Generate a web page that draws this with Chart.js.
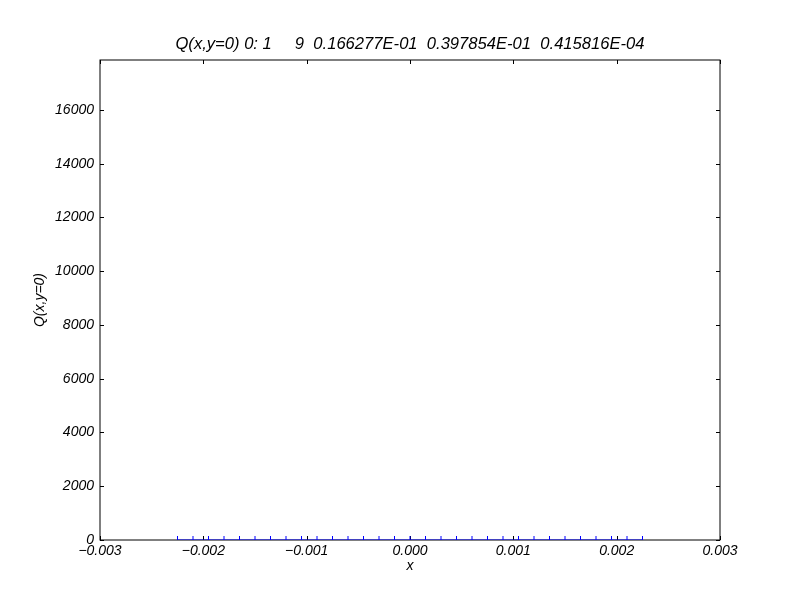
<!DOCTYPE html>
<html>
<head>
<meta charset="utf-8">
<script src="https://cdn.jsdelivr.net/npm/chart.js@4.4.0/dist/chart.umd.min.js"></script>
<style>
  html, body { margin: 0; padding: 0; background: #fff; }
  #wrap { width: 800px; height: 600px; }
</style>
</head>
<body>
<div id="wrap"><canvas id="qChart" width="800" height="600"></canvas></div>
<script>
// data
const xValues = [
  -0.00225, -0.0021, -0.00195, -0.0018, -0.00165, -0.0015, -0.00135, -0.0012,
  -0.00105, -0.0009, -0.00075, -0.0006, -0.00045, -0.0003, -0.00015, 0.0,
  0.00015, 0.0003, 0.00045, 0.0006, 0.00075, 0.0009, 0.00105, 0.0012,
  0.00135, 0.0015, 0.00165, 0.0018, 0.00195, 0.0021, 0.00225
];
const qValues = [
  0, 0, 0, 0, 0, 0, 0, 0, 0, 0, 0, 0, 0, 0, 0, 0,
  0, 0, 0, 0, 0, 0, 0, 0, 0, 0, 0, 0, 0, 0, 0
];
const xTicks = [-0.003, -0.002, -0.001, 0.0, 0.001, 0.002, 0.003];
const yTicks = [0, 2000, 4000, 6000, 8000, 10000, 12000, 14000, 16000];
const yMax = 17860;
const titleText = "Q(x,y=0) 0: 1     9  0.166277E-01  0.397854E-01  0.415816E-04";

const fam = "'Liberation Sans', Arial, sans-serif";

// frame + inward ticks like matplotlib, drawn under the data
const framePlugin = {
  id: "frame",
  beforeDatasetsDraw(chart) {
    const { ctx, chartArea: a, scales } = chart;
    ctx.save();
    ctx.strokeStyle = "#000";
    ctx.lineWidth = 1;
    ctx.beginPath();
    xTicks.forEach(function (v) {
      const px = Math.round(scales.x.getPixelForValue(v)) + 0.5;
      ctx.moveTo(px, a.bottom); ctx.lineTo(px, a.bottom - 4);
      ctx.moveTo(px, a.top); ctx.lineTo(px, a.top + 4);
    });
    yTicks.forEach(function (v) {
      const py = Math.round(scales.y.getPixelForValue(v)) + 0.5;
      ctx.moveTo(a.left, py); ctx.lineTo(a.left + 4, py);
      ctx.moveTo(a.right, py); ctx.lineTo(a.right - 4, py);
    });
    ctx.stroke();
    ctx.strokeRect(a.left, a.top, a.right - a.left, a.bottom - a.top);
    ctx.restore();
  },
};

// title centred over the plot area
const titlePlugin = {
  id: "plotTitle",
  afterDraw(chart) {
    const { ctx, chartArea: a } = chart;
    ctx.save();
    ctx.fillStyle = "#000";
    ctx.font = "italic 16.6px " + fam;
    ctx.textAlign = "center";
    ctx.textBaseline = "middle";
    ctx.fillText(titleText, (a.left + a.right) / 2, 44);
    ctx.restore();
  },
};

const points = xValues.map(function (x, i) { return { x: x, y: qValues[i] }; });

new Chart(document.getElementById("qChart"), {
  type: "line",
  data: {
    datasets: [
      {
        data: points,
        borderColor: "#0000ff",
        borderWidth: 1,
        pointStyle: "line",
        rotation: 90,
        pointRadius: 4,
        pointBorderColor: "#0000ff",
        pointBorderWidth: 1,
        clip: 0,
      },
    ],
  },
  options: {
    responsive: false,
    animation: false,
    layout: { padding: { left: 0, right: 80, top: 60, bottom: 0 } },
    plugins: {
      legend: { display: false },
      tooltip: { enabled: false },
      title: { display: false },
    },
    scales: {
      x: {
        type: "linear",
        min: -0.003,
        max: 0.003,
        grid: { display: false, drawTicks: false },
        border: { display: false },
        afterFit: function (s) { s.height = 60; },
        afterBuildTicks: function (s) { s.ticks = xTicks.map(function (v) { return { value: v }; }); },
        ticks: {
          color: "#000",
          padding: 3,
          maxRotation: 0,
          font: { family: fam, size: 14, style: "italic" },
          callback: function (v) {
            const s = Math.abs(v).toFixed(3);
            return (v < -1e-9 ? "\u2212" : "") + s;
          },
        },
        title: {
          display: true,
          text: "x",
          color: "#000",
          font: { family: fam, size: 14, style: "italic", lineHeight: 1.2 },
          padding: { top: 0, bottom: 25.6 },
        },
      },
      y: {
        type: "linear",
        min: 0,
        max: yMax,
        grid: { display: false, drawTicks: false },
        border: { display: false },
        afterFit: function (s) { s.width = 100; },
        afterBuildTicks: function (s) { s.ticks = yTicks.map(function (v) { return { value: v }; }); },
        ticks: {
          color: "#000",
          padding: 6,
          font: { family: fam, size: 14, style: "italic" },
          callback: function (v) { return String(v); },
        },
        title: {
          display: true,
          text: "Q(x,y=0)",
          color: "#000",
          font: { family: fam, size: 14, style: "italic", lineHeight: 1.2 },
          padding: { top: 31.6, bottom: 0 },
        },
      },
    },
  },
  plugins: [framePlugin, titlePlugin],
});
</script>
</body>
</html>
